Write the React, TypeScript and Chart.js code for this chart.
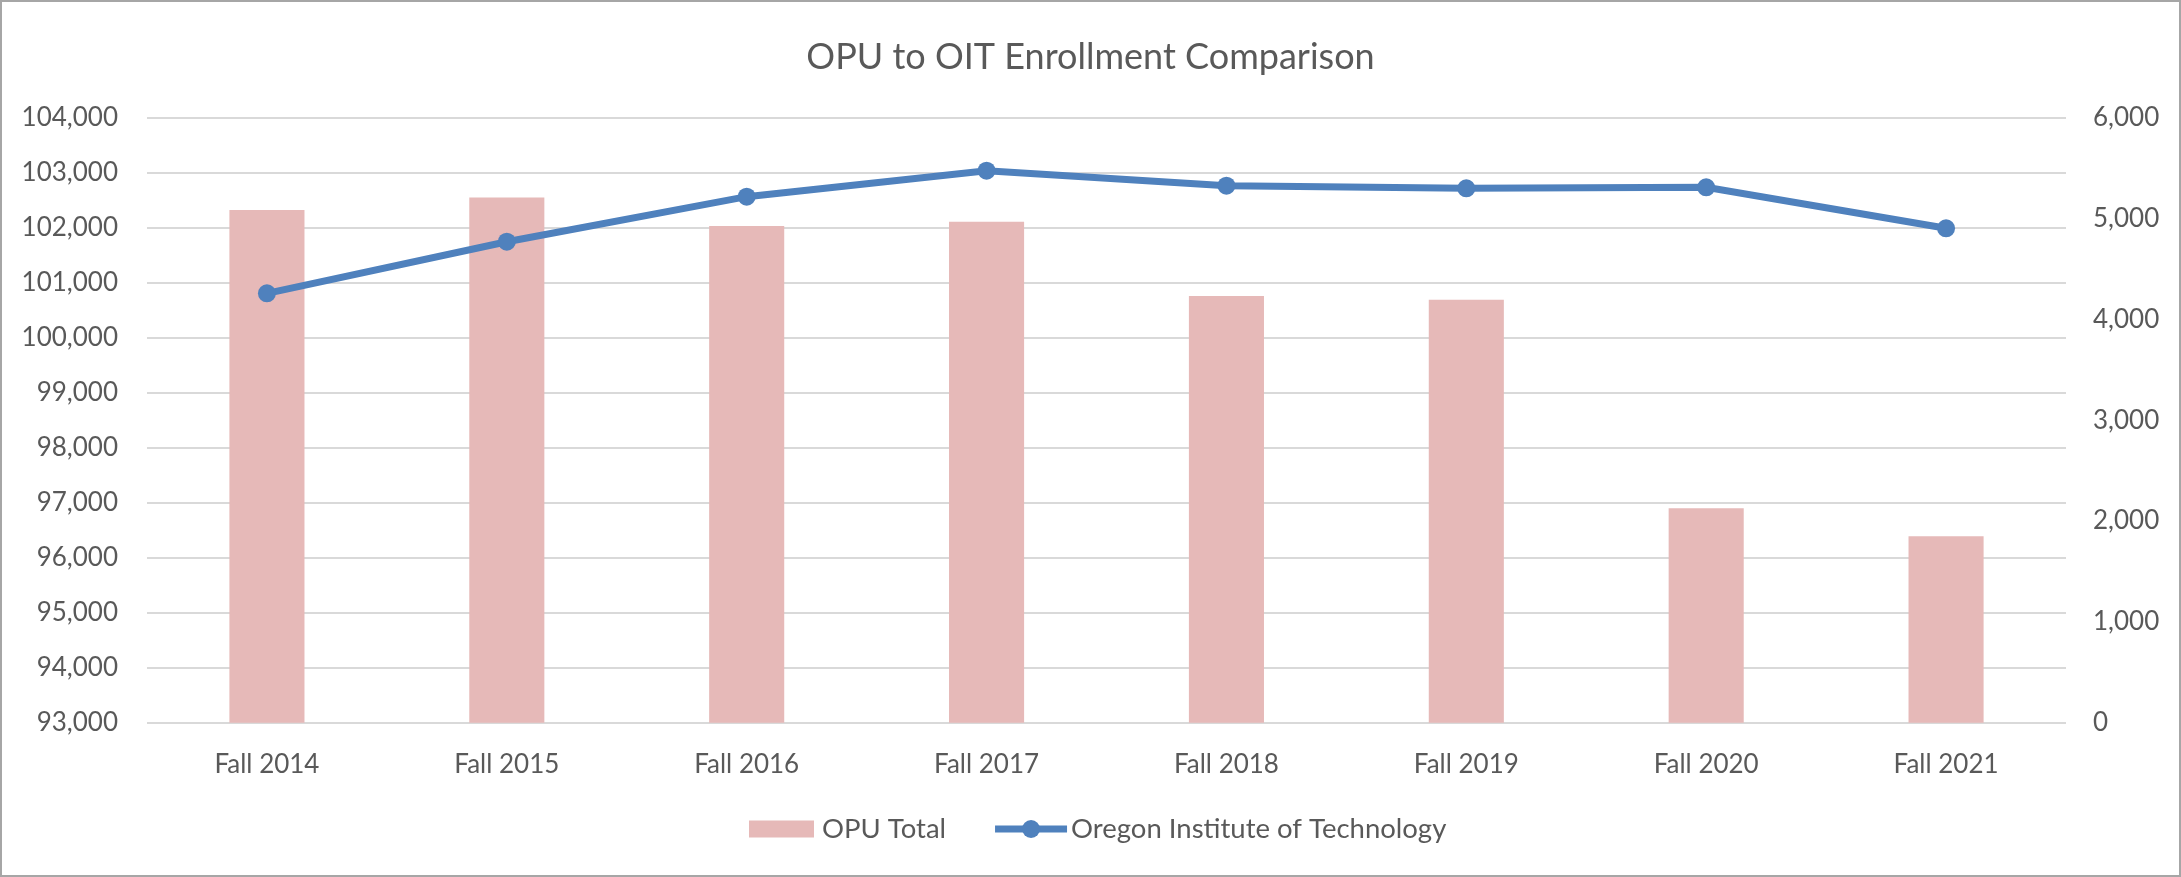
import React, { useEffect, useRef } from "react";
import { Chart, registerables } from "chart.js";

Chart.register(...registerables);

const W = 2181;
const H = 877;

const chartTitle = "OPU to OIT Enrollment Comparison";
const categories = [
  "Fall 2014",
  "Fall 2015",
  "Fall 2016",
  "Fall 2017",
  "Fall 2018",
  "Fall 2019",
  "Fall 2020",
  "Fall 2021",
];
const opuTotalLabel = "OPU Total";
const opuTotal = [102320, 102550, 102030, 102110, 100760, 100690, 96900, 96390];
const oitLabel = "Oregon Institute of Technology";
const oitEnrollment = [4258, 4770, 5217, 5474, 5326, 5300, 5310, 4903];

const leftMin = 93000;
const leftMax = 104000;
const leftStep = 1000;
const rightMin = 0;
const rightMax = 6000;
const rightStep = 1000;

const FONT = "Lato";
const TEXT = "#595959";
const BAR = "#e6b9b8";
const LINE = "#4f81bd";
const GRID = "#d9d9d9";
const FRAME = "#a6a6a6";

// Frame around the whole picture plus the legend row below the axis
const decorPlugin = {
  id: "decor",
  afterDraw(chart: any) {
    const ctx = chart.ctx;
    ctx.save();
    // legend
    ctx.font = `27.5px ${FONT}`;
    ctx.textBaseline = "middle";
    ctx.textAlign = "left";
    const cy = 829;
    const t1 = ctx.measureText(opuTotalLabel).width;
    let x = 749;
    ctx.fillStyle = BAR;
    ctx.fillRect(x, cy - 8.5, 65, 17);
    x += 65 + 8;
    ctx.fillStyle = TEXT;
    ctx.fillText(opuTotalLabel, x, cy);
    x += t1 + 49;
    ctx.strokeStyle = LINE;
    ctx.lineWidth = 7;
    ctx.beginPath();
    ctx.moveTo(x, cy);
    ctx.lineTo(x + 72, cy);
    ctx.stroke();
    ctx.fillStyle = LINE;
    ctx.beginPath();
    ctx.arc(x + 36, cy, 9, 0, Math.PI * 2);
    ctx.fill();
    x += 72 + 4;
    ctx.fillStyle = TEXT;
    ctx.fillText(oitLabel, x, cy);
    // frame
    ctx.strokeStyle = FRAME;
    ctx.lineWidth = 2;
    ctx.strokeRect(1, 1, W - 2, H - 2);
    ctx.restore();
  },
};

export default function App() {
  const ref = useRef<HTMLCanvasElement>(null);

  useEffect(() => {
    document.body.style.margin = "0";
    const chart = new Chart(ref.current!, {
      type: "bar",
      data: {
        labels: categories,
        datasets: [
          {
            type: "line",
            label: oitLabel,
            data: oitEnrollment,
            yAxisID: "y1",
            borderColor: LINE,
            backgroundColor: LINE,
            borderWidth: 7,
            pointRadius: 9,
            pointBorderWidth: 0,
            pointBackgroundColor: LINE,
            tension: 0,
            order: 0,
          } as any,
          {
            type: "bar",
            label: opuTotalLabel,
            data: opuTotal,
            yAxisID: "y",
            backgroundColor: BAR,
            borderWidth: 0,
            barPercentage: 0.313,
            categoryPercentage: 1,
            order: 1,
          } as any,
        ],
      },
      options: {
        animation: false,
        responsive: false,
        maintainAspectRatio: false,
        devicePixelRatio: 1,
        layout: { padding: { top: 0, left: 0, right: 0, bottom: 103 } },
        plugins: {
          title: {
            display: true,
            text: chartTitle,
            color: TEXT,
            font: { family: FONT, size: 36, weight: "normal" },
            padding: { top: 35.4, bottom: 39.1 },
          },
          legend: { display: false },
          tooltip: { enabled: false },
        },
        scales: {
          x: {
            offset: true,
            grid: { display: false, drawTicks: false },
            border: { display: false },
            ticks: {
              color: TEXT,
              font: { family: FONT, size: 26 },
              padding: 26.5,
              maxRotation: 0,
              autoSkip: false,
            },
            afterFit: (s: any) => {
              s.height = 51.3;
            },
          },
          y: {
            position: "left",
            min: leftMin,
            max: leftMax,
            grid: { color: GRID, lineWidth: 2, drawTicks: false },
            border: { display: false },
            ticks: {
              stepSize: leftStep,
              color: TEXT,
              font: { family: FONT, size: 26 },
              padding: 29,
            },
            afterFit: (s: any) => {
              s.width = 147;
            },
          },
          y1: {
            position: "right",
            min: rightMin,
            max: rightMax,
            grid: { display: false, drawTicks: false },
            border: { display: false },
            ticks: {
              stepSize: rightStep,
              color: TEXT,
              font: { family: FONT, size: 26 },
              padding: 27,
            },
            afterFit: (s: any) => {
              s.width = W - 2066;
            },
          },
        },
      },
      plugins: [decorPlugin],
    } as any);
    return () => chart.destroy();
  }, []);

  return (
    <div style={{ position: "absolute", left: 0, top: 0, width: W, height: H, background: "#fff" }}>
      <canvas ref={ref} width={W} height={H} style={{ display: "block", width: W, height: H }} />
    </div>
  );
}
